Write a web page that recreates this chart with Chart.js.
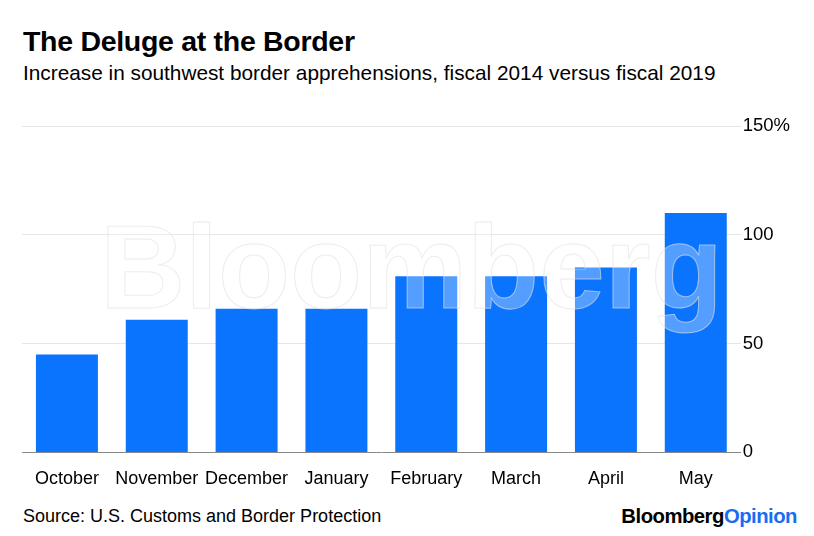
<!DOCTYPE html>
<html>
<head>
<meta charset="utf-8">
<script src="https://cdn.jsdelivr.net/npm/chart.js@4"></script>
<style>
  body { margin: 0; background: #fff; font-family: "Liberation Sans", Arial, sans-serif; width: 814px; height: 536px; position: relative; overflow: hidden; }
  h1 { position: absolute; left: 23px; top: 25px; margin: 0; font-size: 28.5px; font-weight: bold; color: #000; letter-spacing: -0.3px; }
  .sub { position: absolute; left: 23px; top: 61px; font-size: 20.8px; color: #000; }
  .src { position: absolute; left: 23px; top: 506px; font-size: 18px; color: #000; }
  .logo { position: absolute; right: 17px; top: 505px; font-size: 20.3px; font-weight: bold; letter-spacing: -0.5px; }
  #wrap { position: absolute; left: 0; top: 113px; width: 814px; height: 385px; }
</style>
</head>
<body>
<h1>The Deluge at the Border</h1>
<div class="sub">Increase in southwest border apprehensions, fiscal 2014 versus fiscal 2019</div>
<div id="wrap"><canvas id="c"></canvas></div>
<div class="src">Source: U.S. Customs and Border Protection</div>
<div class="logo"><span style="color:#000">Bloomberg</span><span style="color:#1a6cf5">Opinion</span></div>
<script>
const months = ["October", "November", "December", "January", "February", "March", "April", "May"];
const increase = [45, 61, 66, 66, 81, 81, 85, 110];
const tickValues = [0, 50, 100, 150];

const watermark = {
  id: "watermark",
  afterDatasetsDraw(chart) {
    const ctx = chart.ctx;
    ctx.save();
    ctx.font = "bold 118px 'Liberation Sans', Arial, sans-serif";
    ctx.textBaseline = "alphabetic";
    ctx.fillStyle = "rgba(255,255,255,0.3)";
    ctx.strokeStyle = "rgba(225,225,225,0.6)";
    ctx.lineWidth = 1;
    ctx.fillText("Bloomberg", 100, 195);
    ctx.strokeText("Bloomberg", 100, 195);
    ctx.restore();
  }
};

new Chart(document.getElementById("c"), {
  type: "bar",
  data: {
    labels: months,
    datasets: [{
      data: increase,
      backgroundColor: "#0a74ff",
      barPercentage: 0.69,
      categoryPercentage: 1
    }]
  },
  options: {
    responsive: true,
    maintainAspectRatio: false,
    animation: false,
    layout: { padding: { left: 22, right: 22, top: 10 } },
    plugins: { legend: { display: false }, tooltip: { enabled: false } },
    scales: {
      x: {
        grid: { display: false },
        border: { display: false },
        ticks: { color: "#000", font: { size: 18, family: "Liberation Sans" }, padding: 8, maxRotation: 0, minRotation: 0, autoSkip: false }
      },
      y: {
        position: "right",
        min: 0,
        max: 150,
        afterBuildTicks: (axis) => { axis.ticks = tickValues.map(v => ({ value: v })); },
        grid: { color: ctx => ctx.tick.value === 0 ? "#888" : "#e6e6e6", drawTicks: false },
        border: { display: false },
        ticks: {
          color: "#000",
          font: { size: 18.5, family: "Liberation Sans" },
          padding: 2,
          callback: v => v === 150 ? "150%" : v
        }
      }
    }
  },
  plugins: [watermark]
});
</script>
</body>
</html>
